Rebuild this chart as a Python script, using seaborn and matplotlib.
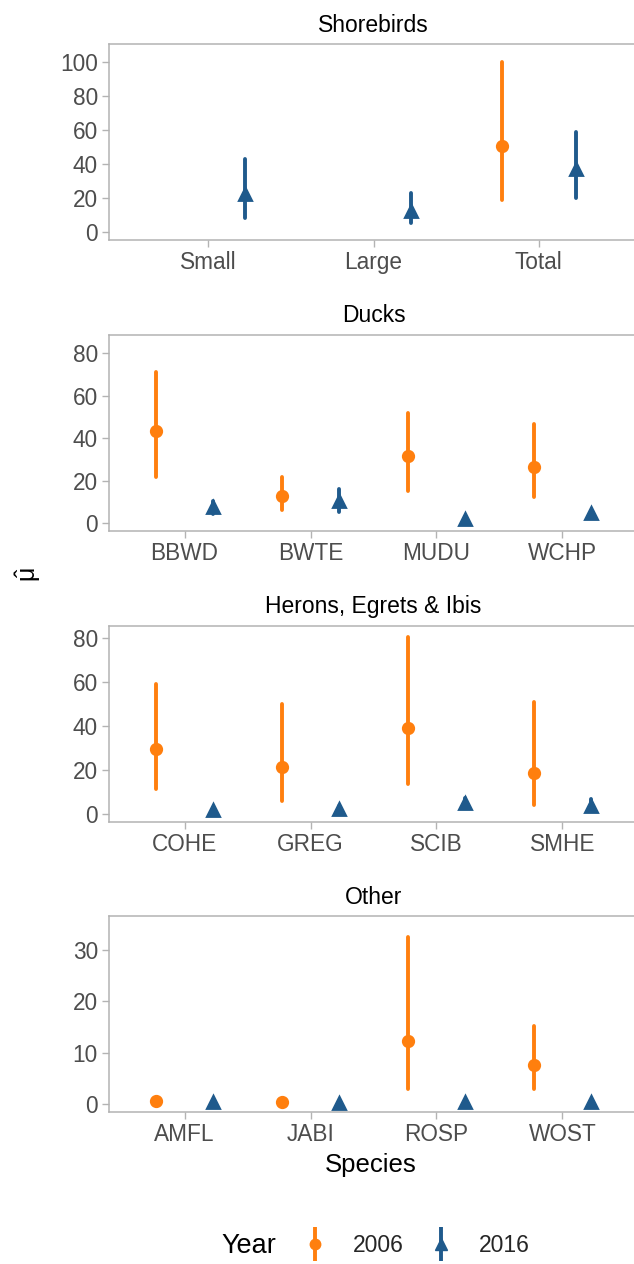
import numpy as np
import pandas as pd
import matplotlib
matplotlib.use("Agg")
import matplotlib.pyplot as plt
import seaborn as sns
from matplotlib.lines import Line2D
from matplotlib.legend_handler import HandlerTuple

nan = np.nan

# estimated abundance (mu hat) with lower / upper interval, per group and year
shore_cats = ["Small", "Large", "Total"]
shore_est_2006 = [nan, nan, 50.4]
shore_lo_2006 = [nan, nan, 18.8]
shore_hi_2006 = [nan, nan, 99.7]
shore_est_2016 = [22.5, 12.5, 37.0]
shore_lo_2016 = [8.0, 5.0, 20.1]
shore_hi_2016 = [42.6, 23.0, 58.5]

duck_cats = ["BBWD", "BWTE", "MUDU", "WCHP"]
duck_est_2006 = [43.3, 12.5, 31.5, 26.3]
duck_lo_2006 = [21.7, 6.0, 15.1, 12.3]
duck_hi_2006 = [71.3, 21.7, 52.0, 46.5]
duck_est_2016 = [7.3, 10.5, 1.8, 4.5]
duck_lo_2016 = [4.0, 5.2, 1.2, 3.5]
duck_hi_2016 = [10.4, 15.9, 2.6, 5.6]

heron_cats = ["COHE", "GREG", "SCIB", "SMHE"]
heron_est_2006 = [29.4, 21.2, 39.1, 18.4]
heron_lo_2006 = [11.1, 5.9, 13.7, 4.1]
heron_hi_2006 = [59.0, 49.8, 80.5, 51.0]
heron_est_2016 = [1.8, 2.3, 4.8, 3.5]
heron_lo_2016 = [0.9, 1.3, 3.2, 2.0]
heron_hi_2016 = [2.6, 3.4, 7.3, 6.5]

other_cats = ["AMFL", "JABI", "ROSP", "WOST"]
other_est_2006 = [0.5, 0.4, 12.2, 7.5]
other_lo_2006 = [0.4, 0.3, 2.9, 2.8]
other_hi_2006 = [0.6, 0.5, 32.5, 15.3]
other_est_2016 = [0.3, 0.2, 0.3, 0.4]
other_lo_2016 = [0.2, 0.1, 0.2, 0.3]
other_hi_2016 = [0.4, 0.3, 0.4, 0.5]

years = ["2006", "2016"]
year_colors = ["#ff7f0e", "#1f5a8c"]
year_markers = ["o", "^"]

panels = [
    ("Shorebirds", shore_cats,
     [(shore_est_2006, shore_lo_2006, shore_hi_2006), (shore_est_2016, shore_lo_2016, shore_hi_2016)],
     (-4.7, 110.3), [0, 20, 40, 60, 80, 100]),
    ("Ducks", duck_cats,
     [(duck_est_2006, duck_lo_2006, duck_hi_2006), (duck_est_2016, duck_lo_2016, duck_hi_2016)],
     (-3.8, 88.7), [0, 20, 40, 60, 80]),
    ("Herons, Egrets & Ibis", heron_cats,
     [(heron_est_2006, heron_lo_2006, heron_hi_2006), (heron_est_2016, heron_lo_2016, heron_hi_2016)],
     (-3.8, 85.6), [0, 20, 40, 60, 80]),
    ("Other", other_cats,
     [(other_est_2006, other_lo_2006, other_hi_2006), (other_est_2016, other_lo_2016, other_hi_2016)],
     (-1.6, 36.7), [0, 10, 20, 30]),
]


def long_table(cats, series):
    # three rows per point (lo, est, hi): median = estimate, min/max = interval
    rows = []
    for year, (est, lo, hi) in zip(years, series):
        for c, e, l, h in zip(cats, est, lo, hi):
            if np.isnan(e):
                continue
            for v in (l, e, h):
                rows.append({"Species": c, "Year": year, "mu": v})
    return pd.DataFrame(rows)


sns.set_style("white")
plt.rcParams["font.family"] = ["Liberation Sans", "DejaVu Sans"]
plt.rcParams["mathtext.fontset"] = "custom"
plt.rcParams["mathtext.rm"] = "Liberation Sans"
plt.rcParams["mathtext.it"] = "Liberation Sans"

W, H = 634, 1264
fig = plt.figure(figsize=(W / 100, H / 100), dpi=100)

ax_tops = [44, 335, 626, 916]
ax_h = 196
left, right = 109, 638
gray = "#b3b3b3"
circle_size, tri_size, err_lw = 7.5, 8.6, 2.8

for (title, cats, series, ylim, yticks), top in zip(panels, ax_tops):
    ax = fig.add_axes([left / W, 1 - (top + ax_h) / H, (right - left) / W, ax_h / H])
    df = long_table(cats, series)
    sns.pointplot(data=df, x="Species", y="mu", hue="Year", order=cats, hue_order=years,
                  palette=year_colors, markers=year_markers, linestyles="none",
                  estimator="median", errorbar=lambda v: (v.min(), v.max()),
                  dodge=0.45, markersize=circle_size, err_kws={"linewidth": err_lw},
                  legend=False, ax=ax)
    for ln in ax.lines:
        if ln.get_marker() == "^":
            ln.set_markersize(tri_size)
    ax.set_xlim(-0.6, len(cats) - 0.4)
    ax.set_ylim(*ylim)
    ax.set_yticks(yticks)
    ax.set_xlabel("")
    ax.set_ylabel("")
    ax.set_title(title, fontsize=16.5, color="black", pad=9)
    for s in ax.spines.values():
        s.set_color(gray)
        s.set_linewidth(1.1)
    ax.tick_params(axis="both", labelsize=16.3, labelcolor="#4d4d4d", color=gray,
                   length=5, width=1, left=True, bottom=True, pad=3)

fig.text(371 / W, 1 - 1165 / H, "Species", ha="center", va="center", fontsize=18.5, color="black")
fig.text(28 / W, 1 - 575 / H, r"$\hat{\mu}$", ha="center", va="center", rotation=90,
         fontsize=18, color="black")

# legend at the bottom
fig.text(249 / W, 1 - 1246 / H, "Year", ha="center", va="center", fontsize=19.5, color="black")
handles = []
for col, mk, ms in zip(year_colors, year_markers, [circle_size, tri_size]):
    bar = Line2D([], [], linestyle="none", marker="|", markersize=25, markeredgewidth=err_lw, color=col)
    pt = Line2D([], [], linestyle="none", marker=mk, markersize=ms, color=col)
    handles.append((bar, pt))
fig.legend(handles, years, handler_map={tuple: HandlerTuple(ndivide=1)},
           loc="center left", bbox_to_anchor=(303.5 / W, 1 - 1246 / H), ncol=2,
           frameon=False, fontsize=16.5, handlelength=1.0, handletextpad=1.16,
           columnspacing=1.1, borderpad=0, borderaxespad=0)

fig.savefig("out.png", dpi=100)
